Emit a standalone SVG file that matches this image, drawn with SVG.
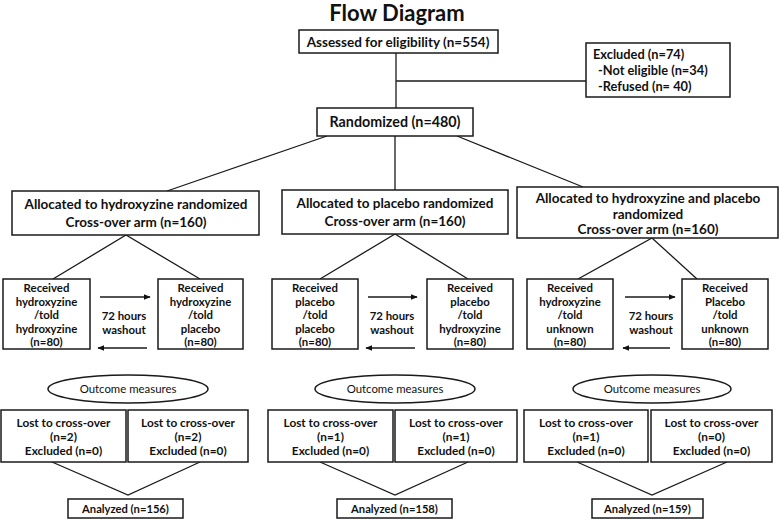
<svg xmlns="http://www.w3.org/2000/svg" width="779" height="519" viewBox="0 0 779 519">
<defs>
<marker id="ah" viewBox="0 0 10 10" refX="9" refY="5" markerWidth="7" markerHeight="7" markerUnits="userSpaceOnUse" orient="auto">
<path d="M0,1 L10,5 L0,9 z" fill="#111"/>
</marker>
<style>
.box{fill:#fff;stroke:#1a1a1a;stroke-width:1.5}
.ln{fill:none;stroke:#1a1a1a;stroke-width:1.3}
text{font-family:Lato,"Liberation Sans",sans-serif;font-weight:bold;fill:#111;text-anchor:middle}
.tl{text-anchor:start;font-size:12.8px}
.s13{font-size:13.5px}
.s14{font-size:14.3px}
.s11{font-size:11.4px}
.s12{font-size:11.8px}
.an{font-size:11.2px}
.tr{font-weight:normal;font-size:11.4px}
.title{font-size:22px}
</style>
</defs>
<rect width="779" height="519" fill="#fff"/>
<text class="title" x="397" y="21">Flow Diagram</text>

<g id="connectors">
<line class="ln" x1="396" y1="53" x2="396" y2="108"/>
<line class="ln" x1="396" y1="81" x2="586" y2="81"/>
<line class="ln" x1="327" y1="136" x2="167" y2="191"/>
<line class="ln" x1="395" y1="136" x2="395" y2="190"/>
<line class="ln" x1="457" y1="136" x2="583" y2="187"/>
<polyline class="ln" points="53,279 126,235 200,279"/>
<line class="ln" x1="100" y1="297" x2="150" y2="297" marker-end="url(#ah)"/>
<line class="ln" x1="147" y1="348" x2="98" y2="348" marker-end="url(#ah)"/>
<polyline class="ln" points="52,462 128,495 200,462"/>
<polyline class="ln" points="320,279 395,234 468,279"/>
<line class="ln" x1="368" y1="297" x2="417" y2="297" marker-end="url(#ah)"/>
<line class="ln" x1="415" y1="348" x2="366" y2="348" marker-end="url(#ah)"/>
<polyline class="ln" points="320,462 395,495 468,462"/>
<polyline class="ln" points="578,279 652,238 697,279"/>
<line class="ln" x1="625" y1="297" x2="675" y2="297" marker-end="url(#ah)"/>
<line class="ln" x1="670" y1="348" x2="623" y2="348" marker-end="url(#ah)"/>
<polyline class="ln" points="577,462 652,495 727,462"/>
</g>

<g id="assessed">
<rect class="box" x="299" y="30" width="199" height="23"/>
<text class="s13" x="398" y="46.5">Assessed for eligibility (n=554)</text>
</g>
<g id="excluded">
<rect class="box" x="586" y="43" width="144" height="54"/>
<text class="tl" x="593" y="59">Excluded (n=74)</text>
<text class="tl" x="598" y="75">-Not eligible (n=34)</text>
<text class="tl" x="598" y="91">-Refused (n= 40)</text>
</g>
<g id="randomized">
<rect class="box" x="317" y="108" width="156" height="28"/>
<text class="s14" x="395" y="127">Randomized (n=480)</text>
</g>

<g id="arm1">
<rect class="box" x="12" y="191" width="247" height="44"/>
<text class="s13" x="136" y="209">Allocated to hydroxyzine randomized</text>
<text class="s13" x="136" y="227">Cross-over arm (n=160)</text>
</g>
<g id="arm2">
<rect class="box" x="282" y="190" width="226" height="44"/>
<text class="s13" x="395" y="208">Allocated to placebo randomized</text>
<text class="s13" x="395" y="226">Cross-over arm (n=160)</text>
</g>
<g id="arm3">
<rect class="box" x="517" y="187" width="261" height="51"/>
<text class="s13" x="648" y="203">Allocated to hydroxyzine and placebo</text>
<text class="s13" x="648" y="218.5">randomized</text>
<text class="s13" x="648" y="234">Cross-over arm (n=160)</text>
</g>

<g id="a1">
<rect class="box" x="3" y="279" width="87" height="70"/>
<text class="s11" x="46.5" y="292">Received</text>
<text class="s11" x="46.5" y="305.5">hydroxyzine</text>
<text class="s11" x="46.5" y="319">/told</text>
<text class="s11" x="46.5" y="332.5">hydroxyzine</text>
<text class="s11" x="46.5" y="346">(n=80)</text>
</g>
<g id="a2">
<rect class="box" x="158" y="279" width="85" height="70"/>
<text class="s11" x="200.5" y="292">Received</text>
<text class="s11" x="200.5" y="305.5">hydroxyzine</text>
<text class="s11" x="200.5" y="319">/told</text>
<text class="s11" x="200.5" y="332.5">placebo</text>
<text class="s11" x="200.5" y="346">(n=80)</text>
</g>
<g id="wash1">
<text class="s11" x="124" y="319.5">72 hours</text>
<text class="s11" x="124" y="333.5">washout</text>
</g>

<g id="b1">
<rect class="box" x="272" y="279" width="86" height="70"/>
<text class="s11" x="315" y="292">Received</text>
<text class="s11" x="315" y="305.5">placebo</text>
<text class="s11" x="315" y="319">/told</text>
<text class="s11" x="315" y="332.5">placebo</text>
<text class="s11" x="315" y="346">(n=80)</text>
</g>
<g id="b2">
<rect class="box" x="427" y="279" width="86" height="70"/>
<text class="s11" x="470" y="292">Received</text>
<text class="s11" x="470" y="305.5">placebo</text>
<text class="s11" x="470" y="319">/told</text>
<text class="s11" x="470" y="332.5">hydroxyzine</text>
<text class="s11" x="470" y="346">(n=80)</text>
</g>
<g id="wash2">
<text class="s11" x="392" y="319.5">72 hours</text>
<text class="s11" x="392" y="333.5">washout</text>
</g>

<g id="c1">
<rect class="box" x="527" y="279" width="86" height="70"/>
<text class="s11" x="570" y="292">Received</text>
<text class="s11" x="570" y="305.5">hydroxyzine</text>
<text class="s11" x="570" y="319">/told</text>
<text class="s11" x="570" y="332.5">unknown</text>
<text class="s11" x="570" y="346">(n=80)</text>
</g>
<g id="c2">
<rect class="box" x="682" y="279" width="86" height="70"/>
<text class="s11" x="725" y="292">Received</text>
<text class="s11" x="725" y="305.5">Placebo</text>
<text class="s11" x="725" y="319">/told</text>
<text class="s11" x="725" y="332.5">unknown</text>
<text class="s11" x="725" y="346">(n=80)</text>
</g>
<g id="wash3">
<text class="s11" x="651" y="319.5">72 hours</text>
<text class="s11" x="651" y="333.5">washout</text>
</g>

<g id="om1">
<ellipse class="box" cx="128" cy="389" rx="80" ry="14"/>
<text class="tr" x="128" y="393">Outcome measures</text>
</g>
<g id="om2">
<ellipse class="box" cx="395" cy="389" rx="80" ry="14"/>
<text class="tr" x="395" y="393">Outcome measures</text>
</g>
<g id="om3">
<ellipse class="box" cx="652" cy="389" rx="79" ry="14"/>
<text class="tr" x="652" y="393">Outcome measures</text>
</g>

<g id="l1">
<rect class="box" x="1" y="410" width="125" height="52"/>
<text class="s12" x="63.5" y="427">Lost to cross-over</text>
<text class="s12" x="63.5" y="441">(n=2)</text>
<text class="s12" x="63.5" y="455">Excluded (n=0)</text>
</g>
<g id="l2">
<rect class="box" x="128" y="410" width="120" height="52"/>
<text class="s12" x="188" y="427">Lost to cross-over</text>
<text class="s12" x="188" y="441">(n=2)</text>
<text class="s12" x="188" y="455">Excluded (n=0)</text>
</g>
<g id="m1">
<rect class="box" x="268" y="410" width="125" height="52"/>
<text class="s12" x="330.5" y="427">Lost to cross-over</text>
<text class="s12" x="330.5" y="441">(n=1)</text>
<text class="s12" x="330.5" y="455">Excluded (n=0)</text>
</g>
<g id="m2">
<rect class="box" x="395" y="410" width="122" height="52"/>
<text class="s12" x="456" y="427">Lost to cross-over</text>
<text class="s12" x="456" y="441">(n=1)</text>
<text class="s12" x="456" y="455">Excluded (n=0)</text>
</g>
<g id="r1">
<rect class="box" x="524" y="410" width="124" height="52"/>
<text class="s12" x="586" y="427">Lost to cross-over</text>
<text class="s12" x="586" y="441">(n=1)</text>
<text class="s12" x="586" y="455">Excluded (n=0)</text>
</g>
<g id="r2">
<rect class="box" x="651" y="410" width="121" height="52"/>
<text class="s12" x="711.5" y="427">Lost to cross-over</text>
<text class="s12" x="711.5" y="441">(n=0)</text>
<text class="s12" x="711.5" y="455">Excluded (n=0)</text>
</g>

<g id="an1">
<rect class="box" x="68" y="499" width="115" height="19"/>
<text class="an" x="125.5" y="512.5">Analyzed (n=156)</text>
</g>
<g id="an2">
<rect class="box" x="337" y="499" width="115" height="19"/>
<text class="an" x="394.5" y="512.5">Analyzed (n=158)</text>
</g>
<g id="an3">
<rect class="box" x="592" y="499" width="111" height="19"/>
<text class="an" x="647.5" y="512.5">Analyzed (n=159)</text>
</g>
</svg>
